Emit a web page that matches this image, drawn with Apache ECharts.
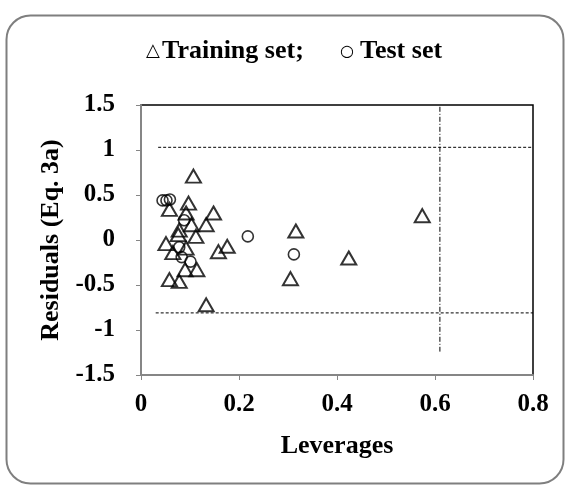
<!DOCTYPE html>
<html>
<head>
<meta charset="utf-8">
<script src="https://cdn.jsdelivr.net/npm/echarts@6/dist/echarts.min.js"></script>
<style>
  html, body { margin: 0; padding: 0; background: #fff; }
  #chart { width: 566px; height: 486px; }
</style>
</head>
<body>
<div id="chart"></div>
<script>
// Williams plot: standardized residuals vs. leverages
const trainLev = [0.107, 0.097, 0.058, 0.148, 0.092, 0.103, 0.133, 0.078, 0.076, 0.112,
                  0.051, 0.092, 0.065, 0.158, 0.176, 0.090, 0.114, 0.058, 0.078, 0.133,
                  0.316, 0.305, 0.424, 0.574];
const trainRes = [0.71, 0.41, 0.34, 0.30, 0.30, 0.17, 0.17, 0.11, 0.06, 0.04,
                  -0.04, -0.09, -0.14, -0.13, -0.07, -0.33, -0.33, -0.44, -0.46, -0.72,
                  0.10, -0.43, -0.20, 0.27];
const testLev = [0.044, 0.052, 0.059, 0.088, 0.218, 0.078, 0.083, 0.101, 0.312];
const testRes = [0.44, 0.44, 0.45, 0.22, 0.04, -0.08, -0.19, -0.24, -0.16];

// Applicability-domain limits
const upperLimit = [[0.035, 1.03], [0.8, 1.03]];
const lowerLimit = [[0.03, -0.81], [0.8, -0.81]];
const hStar = [[0.61, 1.48], [0.61, -1.24]];

const xTicks = [0, 0.2, 0.4, 0.6, 0.8];
const yTicks = [-1.5, -1, -0.5, 0, 0.5, 1, 1.5];

const zip = (a, b) => a.map((v, i) => [v, b[i]]);
const font = '"Liberation Serif", "Times New Roman", serif';
const axisGray = '#868686';
const TICK_FS = 25;
const NAME_FS = 26;

const chart = echarts.init(document.getElementById('chart'));
chart.setOption({
  animation: false,
  backgroundColor: '#fff',
  grid: {
    left: 141, right: 33, top: 105, bottom: 111,
    show: true, borderColor: '#000', borderWidth: 1.5, backgroundColor: 'transparent'
  },
  xAxis: {
    type: 'value', min: 0, max: 0.8, interval: 0.2,
    name: 'Leverages', nameLocation: 'middle', nameGap: 58,
    nameTextStyle: { fontFamily: font, fontWeight: 'bold', fontSize: NAME_FS, color: '#000' },
    axisLine: { show: true, onZero: false, lineStyle: { color: axisGray, width: 2 } },
    axisTick: { show: true, length: 5, lineStyle: { color: axisGray, width: 1 } },
    splitLine: { show: false },
    axisLabel: {
      margin: 17, fontFamily: font, fontWeight: 'bold', fontSize: TICK_FS, color: '#000',
      formatter: v => xTicks.includes(+v.toFixed(2)) ? String(+v.toFixed(2)) : ''
    }
  },
  yAxis: {
    type: 'value', min: -1.5, max: 1.5, interval: 0.5,
    name: 'Residuals (Eq. 3a)', nameLocation: 'middle', nameGap: 77, nameRotate: 90,
    nameTextStyle: { fontFamily: font, fontWeight: 'bold', fontSize: NAME_FS, color: '#000' },
    axisLine: { show: true, onZero: false, lineStyle: { color: axisGray, width: 2 } },
    axisTick: { show: true, length: 5, lineStyle: { color: axisGray, width: 1 } },
    splitLine: { show: false },
    axisLabel: {
      margin: 26, fontFamily: font, fontWeight: 'bold', fontSize: TICK_FS, color: '#000',
      formatter: v => yTicks.includes(+v.toFixed(2)) ? String(+v.toFixed(2)) : ''
    }
  },
  graphic: [
    {
      type: 'rect', left: 4, top: 13, silent: true,
      shape: { width: 557, height: 468, r: 24 },
      style: { fill: 'none', stroke: '#7f7f7f', lineWidth: 2 }
    },
    // legend: symbol glyphs and bold captions
    {
      type: 'text', x: 146, y: 51, silent: true,
      style: { text: '△', fontFamily: '"DejaVu Sans", sans-serif', fontSize: 18,
               fill: '#000', verticalAlign: 'middle' }
    },
    {
      type: 'text', x: 162, y: 51, silent: true,
      style: { text: 'Training set;', fontFamily: font, fontWeight: 'bold', fontSize: NAME_FS,
               fill: '#000', verticalAlign: 'middle' }
    },
    {
      type: 'text', x: 340, y: 52, silent: true,
      style: { text: '○', fontFamily: '"DejaVu Sans", sans-serif', fontSize: 16,
               fill: '#000', verticalAlign: 'middle' }
    },
    {
      type: 'text', x: 360, y: 51, silent: true,
      style: { text: 'Test set', fontFamily: font, fontWeight: 'bold', fontSize: NAME_FS,
               fill: '#000', verticalAlign: 'middle' }
    }
  ],
  series: [
    {
      name: 'Upper limit', type: 'line', data: upperLimit, symbol: 'none', silent: true,
      lineStyle: { color: '#000', width: 1, type: [3, 2] }
    },
    {
      name: 'Lower limit', type: 'line', data: lowerLimit, symbol: 'none', silent: true,
      lineStyle: { color: '#000', width: 1, type: [3, 2] }
    },
    {
      name: 'h*', type: 'line', data: hStar, symbol: 'none', silent: true,
      lineStyle: { color: '#000', width: 1, type: [5, 2, 1, 2] }
    },
    {
      name: 'Training set', type: 'scatter', data: zip(trainLev, trainRes),
      symbol: 'triangle', symbolSize: [15, 13],
      itemStyle: { color: 'rgba(0,0,0,0)', borderColor: '#000', borderWidth: 2 }
    },
    {
      name: 'Test set', type: 'scatter', data: zip(testLev, testRes),
      symbol: 'circle', symbolSize: 11,
      itemStyle: { color: 'rgba(0,0,0,0)', borderColor: '#000', borderWidth: 1.6 }
    }
  ]
});
</script>
</body>
</html>
